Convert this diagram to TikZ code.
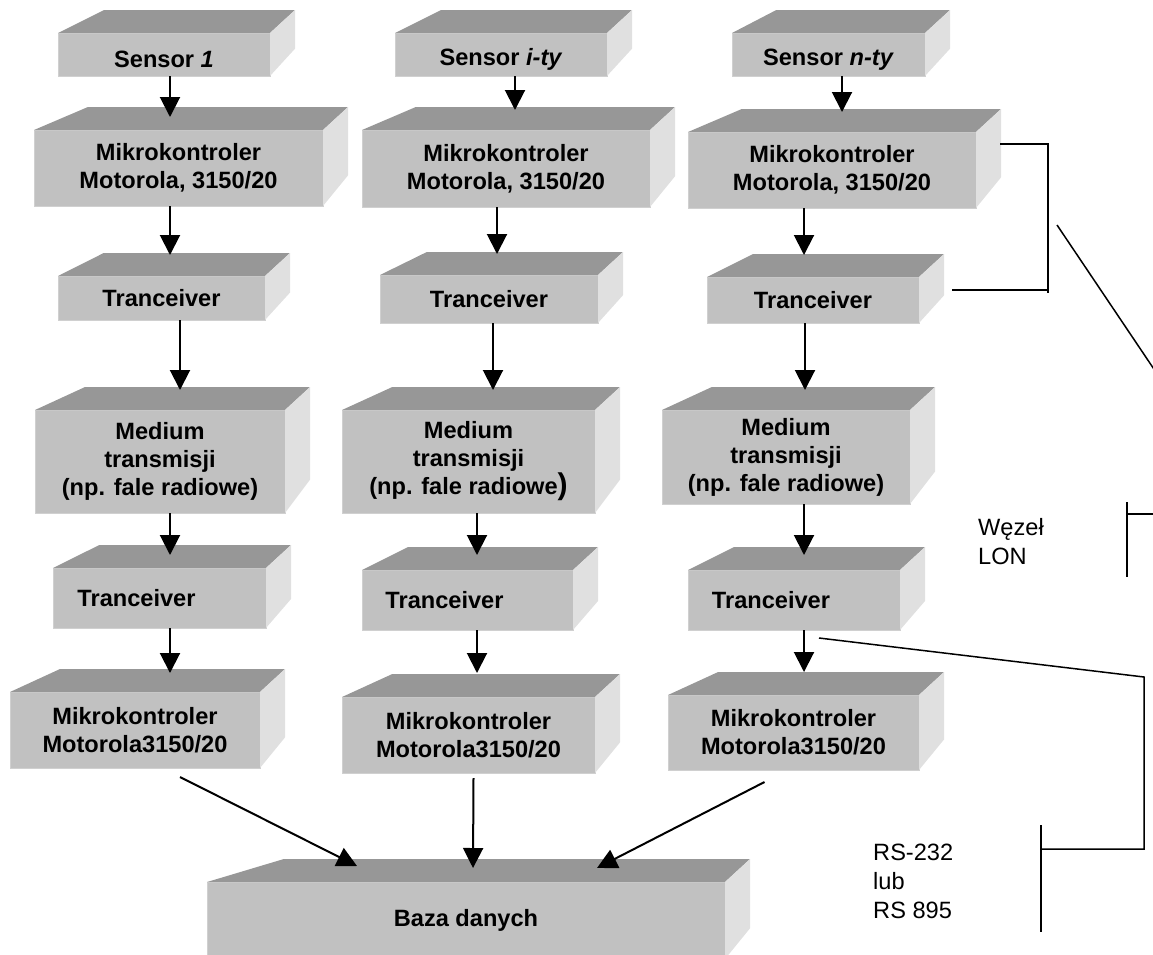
\documentclass[tikz,border=0pt]{standalone}
\usepackage{fontspec}
\setmainfont{Liberation Sans}
\usetikzlibrary{arrows.meta,calc}

\definecolor{przod}{RGB}{193,193,193}
\definecolor{gora}{RGB}{151,151,151}
\definecolor{bok}{RGB}{224,224,224}
\definecolor{krawedz}{RGB}{208,208,208}

\newcommand\duzy{\fontsize{23.6}{28}\selectfont}
\newcommand\nizej[1]{\raisebox{-5pt}[\height][\depth]{#1}}

% top and right faces of a 3D block, drawn from the front node
\newcommand\kostka[1]{%
  \fill[gora] (#1.north west) -- ($(#1.north west)!0.1!(#1.north east)+(25,-23)$)
    -- ($(#1.north east)+(25,-23)$) -- (#1.north east) -- cycle;
  \fill[bok] (#1.north east) -- ($(#1.north east)+(25,-23)$)
    -- ($(#1.south east)!0.1!(#1.north east)+(25,-23)$) -- (#1.south east) -- cycle;
}

\begin{document}
\begin{tikzpicture}[%
    x=1pt, y=-1pt,              % work in pixels, y going down
    ]
% -------------------------------------------------
% Styles
\tikzset{
  blok/.style={rectangle, anchor=north west, fill=przod, draw=krawedz,
    line width=1pt, inner sep=0pt, outer sep=0pt, align=center,
    font=\duzy\bfseries},
  strz/.style={-{Triangle[length=20pt,width=20pt]}, line width=2pt},
  linia/.style={line width=1.5pt},
  opis/.style={anchor=west, align=left, inner sep=0pt,
    font=\fontsize{23.6}{29}\selectfont}
}
\useasboundingbox (0,0) rectangle (1153,954);
% -------------------------------------------------
% Column 1
\node [blok, minimum width=212pt, minimum height=43pt]  (s1)   at (58,33)  {\nizej{Sensor \textit{1}}};
\node [blok, minimum width=289pt, minimum height=76pt]  (mk1)  at (34,130)  {Mikrokontroler\\Motorola, 3150/20};
\node [blok, minimum width=207pt, minimum height=44pt]  (tr1)  at (58,276)  {Tranceiver};
\node [blok, minimum width=250pt, minimum height=103pt] (med1) at (35,410)  {Medium\\transmisji\\(np. fale radiowe)};
\node [blok, minimum width=213pt, minimum height=60pt]  (tl1)  at (53,568)  {Tranceiver\hbox to 46pt{}};
\node [blok, minimum width=250pt, minimum height=76pt]  (ml1)  at (10,692)  {Mikrokontroler\\Motorola3150/20};
% Column 2
\node [blok, minimum width=212pt, minimum height=43pt]  (s2)   at (395,33)  {\nizej{Sensor \textit{i-ty}}};
\node [blok, minimum width=288pt, minimum height=77pt]  (mk2)  at (362,130) {Mikrokontroler\\Motorola, 3150/20};
\node [blok, minimum width=218pt, minimum height=48pt]  (tr2)  at (380,275) {Tranceiver};
\node [blok, minimum width=253pt, minimum height=103pt] (med2) at (342,410) {Medium\\transmisji\\(np. fale radiowe{\fontsize{30}{28}\selectfont)}};
\node [blok, minimum width=211pt, minimum height=60pt]  (tl2)  at (362,570) {Tranceiver\hbox to 46pt{}};
\node [blok, minimum width=253pt, minimum height=76pt]  (ml2)  at (342,697) {Mikrokontroler\\Motorola3150/20};
% Column 3
\node [blok, minimum width=193pt, minimum height=43pt]  (s3)   at (732,33)  {\nizej{Sensor \textit{n-ty}}};
\node [blok, minimum width=288pt, minimum height=76pt]  (mk3)  at (688,132) {Mikrokontroler\\Motorola, 3150/20};
\node [blok, minimum width=212pt, minimum height=46pt]  (tr3)  at (707,277) {Tranceiver};
\node [blok, minimum width=248pt, minimum height=94pt]  (med3) at (662,410) {Medium\\transmisji\\(np. fale radiowe)};
\node [blok, minimum width=212pt, minimum height=60pt]  (tl3)  at (688,570) {Tranceiver\hbox to 46pt{}};
\node [blok, minimum width=251pt, minimum height=75pt]  (ml3)  at (668,695) {Mikrokontroler\\Motorola3150/20};
% Database
\node [blok, minimum width=518pt, minimum height=77pt]  (baza) at (207,882) {Baza danych};

\foreach \n in {s1,mk1,tr1,med1,tl1,ml1,s2,mk2,tr2,med2,tl2,ml2,
                s3,mk3,tr3,med3,tl3,ml3,baza}
  {\kostka{\n}}

% -------------------------------------------------
% Flow down each column (from/to/x/gap left above the front face)
\foreach \a/\b/\x/\d in {s1/mk1/170/13, mk1/tr1/170/21, tr1/med1/180/20,
    med1/tl1/170/13, tl1/ml1/170/19,
    s2/mk2/515/20, mk2/tr2/497/21, tr2/med2/493/20,
    med2/tl2/477/15, tl2/ml2/477/24,
    s3/mk3/842/20, mk3/tr3/804/22, tr3/med3/805/20,
    med3/tl3/804/15, tl3/ml3/804/23}
  \draw [strz, shorten >={\d*1pt}] (\a.south -| \x,0) -- (\b.north -| \x,0);

% Into the database
\draw [strz] ($(ml1.south)+(45,9)$)  -- ($(baza.north west)+(150,-16)$);
\draw [strz] ($(ml2.south)+(5,5)$)   -- ($(baza.north west)+(266,-14)$);
\draw [strz] ($(ml3.south)+(-29,12)$) -- ($(baza.north west)+(390,-14)$);

% -------------------------------------------------
% Node brackets and notes
\draw [linia] ($(mk3.north east)+(24,12)$) -| (1048,293);
\draw [linia] ($(tr3.north east)+(33,13)$) -- (1048,290);
\draw [linia] (1057,225) -- (1170,393);

\node [opis] (lon) at (978,542) {Węzeł\\LON};
\draw [linia] (1127,502) -- (1127,577);
\draw [linia] (1127,514) -- (1160,514);

\node [opis] (rs) at (873,881) {RS-232\\lub\\RS 895};
\draw [linia] ($(tl3.south)+(25,8)$) -- (1144,677) -- (1144,849) -- (1041,849);
\draw [linia] (1041,825) -- (1041,932);
% -------------------------------------------------
\end{tikzpicture}
\end{document}
